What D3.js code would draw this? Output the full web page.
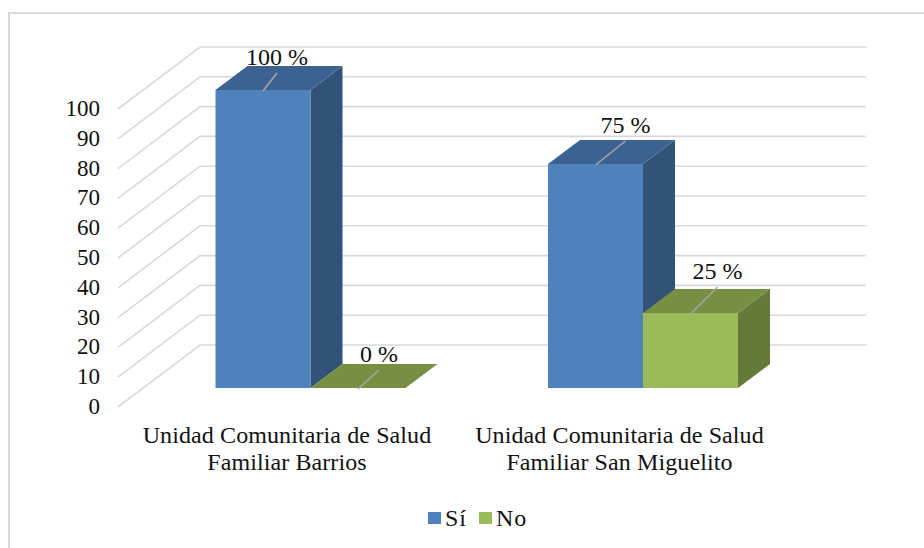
<!DOCTYPE html>
<html><head><meta charset="utf-8">
<script src="https://cdn.jsdelivr.net/npm/d3@7"></script>
<style>html,body{margin:0;padding:0;background:#fff}svg{display:block}text{font-family:"Liberation Serif",serif;fill:#111}</style>
</head><body><div id="chart"></div>
<script>
const categories = [["Unidad Comunitaria de Salud","Familiar Barrios"],["Unidad Comunitaria de Salud","Familiar San Miguelito"]];
const seriesNames = ["Sí","No"];
const siValues = [100,75];
const noValues = [0,25];
const labelSuffix = " %";
const yTicks = d3.range(0,101,10);
const colors = {Sí:{front:"#4f81bd",top:"#3c6291",side:"#325278"},No:{front:"#9bbb59",top:"#778f42",side:"#657a38"}};

const svg = d3.select("#chart").append("svg").attr("width",924).attr("height",548);
svg.append("path").attr("d","M9,548V13H924").attr("fill","none").attr("stroke","#d9d9d9").attr("stroke-width",2);

const y = d3.scaleLinear().domain([0,100]).rangeRound([388,89.9]);
const yGrid = d3.scaleLinear().domain([0,100]).range([407,109]);
const groupX = d3.scaleOrdinal().domain([0,1]).range([215.5,548]);
const catX = d3.scaleOrdinal().domain([0,1]).range([287,619.5]);
const barW = 95;
const depth = {dx:32,dy:-24};
const wall = {dx:82,dy:-62,front:118,right:866};

const grid = svg.append("g").attr("fill","none").attr("stroke","#d9d9d9").attr("stroke-width",1.6);
yTicks.forEach(t=>{
  const yf = yGrid(t);
  grid.append("path").attr("d",`M${wall.front},${yf}L${wall.front+wall.dx},${yf+wall.dy}L${wall.right},${yf+wall.dy}`);
});
svg.append("g").selectAll("text").data(yTicks).join("text")
  .attr("x",100).attr("y",d=>yGrid(d)+7).attr("text-anchor","end").attr("font-size",23).text(d=>d);

function box(x,w,v,c){
  const t=y(v),b=y(0),g=svg.append("g");
  if(v>0) g.append("path").attr("fill",c.side).attr("d",`M${x+w},${t}L${x+w+depth.dx},${t+depth.dy}L${x+w+depth.dx},${b+depth.dy}L${x+w},${b}Z`);
  g.append("path").attr("fill",c.top).attr("d",`M${x},${t}L${x+depth.dx},${t+depth.dy}L${x+w+depth.dx},${t+depth.dy}L${x+w},${t}Z`);
  if(v>0) g.append("rect").attr("x",x).attr("y",t).attr("width",w).attr("height",b-t).attr("fill",c.front);
}
function leader(x,v,text,off){
  const t=y(v), lx=x+off[0], ly=t+off[1];
  svg.append("line").attr("x1",x).attr("y1",t+1).attr("x2",lx).attr("y2",ly).attr("stroke","#a6a6a6").attr("stroke-width",1.6);
  svg.append("text").attr("x",lx).attr("y",ly-8).attr("text-anchor","middle").attr("font-size",24).text(text);
}
const siOffsets = [[14,-17],[30,-23]];
const noOffsets = [[21,-18],[27,-26]];
categories.forEach((c,i)=>{
  const gx=groupX(i);
  box(gx,barW,siValues[i],colors["Sí"]);
  box(gx+barW,barW,noValues[i],colors["No"]);
  leader(gx+47.5,siValues[i],siValues[i]+labelSuffix,siOffsets[i]);
  leader(gx+barW+47.5,noValues[i],noValues[i]+labelSuffix,noOffsets[i]);
  c.forEach((ln,k)=>svg.append("text").attr("x",catX(i)).attr("y",443+k*27).attr("text-anchor","middle").attr("font-size",24).attr("letter-spacing",0.1).text(ln));
});
const lg = svg.append("g");
const legendX = d3.scaleOrdinal().domain(seriesNames).range([428,479]);
seriesNames.forEach(n=>{
  const lx=legendX(n);
  lg.append("rect").attr("x",lx).attr("y",512).attr("width",13).attr("height",12).attr("fill",colors[n].front);
  lg.append("text").attr("x",lx+17).attr("y",526).attr("font-size",24).attr("letter-spacing",0.8).text(n);
});
</script></body></html>
